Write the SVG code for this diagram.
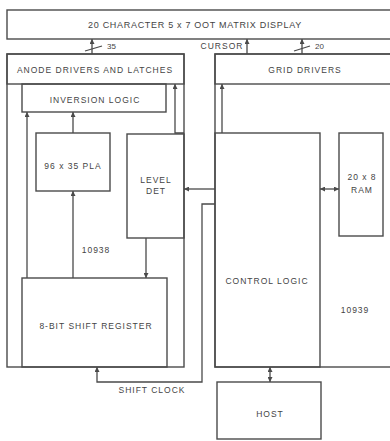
<svg xmlns="http://www.w3.org/2000/svg" width="390" height="441" viewBox="0 0 390 441">
<style>
.box{fill:none;stroke:#4a4a4a;stroke-width:1.4}
.ln{fill:none;stroke:#4a4a4a;stroke-width:1.3}
.t{font-family:"Liberation Sans",Arial,sans-serif;font-size:8.5px;letter-spacing:1px;fill:#444;text-anchor:middle}
.s{font-family:"Liberation Sans",Arial,sans-serif;font-size:8px;fill:#444}
</style>
<defs>
<marker id="ah" viewBox="0 0 5 5" refX="5" refY="2.5" markerWidth="5" markerHeight="5" markerUnits="userSpaceOnUse" orient="auto-start-reverse">
<path d="M0,0 L5,2.5 L0,5 z" fill="#4a4a4a"/>
</marker>
</defs>
<rect width="390" height="441" fill="#fff"/>
<g id="display"><rect class="box" x="7" y="10" width="400" height="29"/><text class="t" x="195" y="28" style="font-size:9px;letter-spacing:0.7px">20 CHARACTER 5 x 7 OOT MATRIX DISPLAY</text></g>
<g id="chip-10938"><rect class="box" x="7" y="54" width="177" height="313"/><text class="t" x="96" y="253">10938</text></g>
<g id="anode-drivers"><rect class="box" x="7" y="54" width="177" height="30"/><text class="t" x="95" y="73">ANODE DRIVERS AND LATCHES</text></g>
<g id="inversion-logic"><rect class="box" x="22" y="84" width="144" height="28"/><text class="t" x="95" y="103">INVERSION LOGIC</text></g>
<g id="pla"><rect class="box" x="36" y="133" width="74" height="58"/><text class="t" x="73" y="169">96 x 35 PLA</text></g>
<g id="level-det"><rect class="box" x="127" y="134" width="57" height="104"/><text class="t" x="156" y="183">LEVEL</text><text class="t" x="156" y="194">DET</text></g>
<g id="shift-register"><rect class="box" x="22" y="278" width="145" height="89"/><text class="t" x="96" y="329">8-BIT SHIFT REGISTER</text></g>
<g id="chip-10939"><rect class="box" x="215" y="54" width="190" height="313"/><text class="t" x="355" y="313">10939</text></g>
<g id="grid-drivers"><rect class="box" x="215" y="54" width="190" height="30"/><text class="t" x="305" y="73">GRID DRIVERS</text></g>
<g id="control-logic"><rect class="box" x="215" y="133" width="105" height="234"/><text class="t" x="267" y="284">CONTROL LOGIC</text></g>
<g id="ram"><rect class="box" x="339" y="133" width="44" height="103"/><text class="t" x="362" y="180">20 x 8</text><text class="t" x="362" y="193">RAM</text></g>
<g id="host"><rect class="box" x="217" y="382" width="104" height="57"/><text class="t" x="270" y="417">HOST</text></g>
<g id="connectors">
<line class="ln" x1="92" y1="54" x2="92" y2="39" marker-end="url(#ah)"/>
<line class="ln" x1="85" y1="51" x2="102" y2="46"/>
<text class="s" x="107" y="49">35</text>
<line class="ln" x1="247" y1="54" x2="247" y2="39" marker-end="url(#ah)"/>
<text class="t" x="222" y="49">CURSOR</text>
<line class="ln" x1="302" y1="54" x2="302" y2="39" marker-end="url(#ah)"/>
<line class="ln" x1="294" y1="51" x2="310" y2="46"/>
<text class="s" x="315" y="49">20</text>
<line class="ln" x1="27" y1="278" x2="27" y2="112" marker-end="url(#ah)"/>
<line class="ln" x1="73" y1="133" x2="73" y2="112" marker-end="url(#ah)"/>
<line class="ln" x1="73" y1="278" x2="73" y2="191" marker-end="url(#ah)"/>
<line class="ln" x1="146" y1="238" x2="146" y2="278" marker-end="url(#ah)"/>
<path class="ln" d="M184,133 H175 V84" marker-end="url(#ah)"/>
<line class="ln" x1="222" y1="133" x2="222" y2="84" marker-end="url(#ah)"/>
<line class="ln" x1="215" y1="189" x2="184" y2="189" marker-end="url(#ah)"/>
<line class="ln" x1="320" y1="189" x2="339" y2="189" marker-start="url(#ah)" marker-end="url(#ah)"/>
<line class="ln" x1="270" y1="382" x2="270" y2="367" marker-start="url(#ah)" marker-end="url(#ah)"/>
<path class="ln" d="M215,204 H202 V382 H97 V367" marker-end="url(#ah)"/>
<text class="t" x="152" y="393">SHIFT CLOCK</text>
</g>
</svg>
